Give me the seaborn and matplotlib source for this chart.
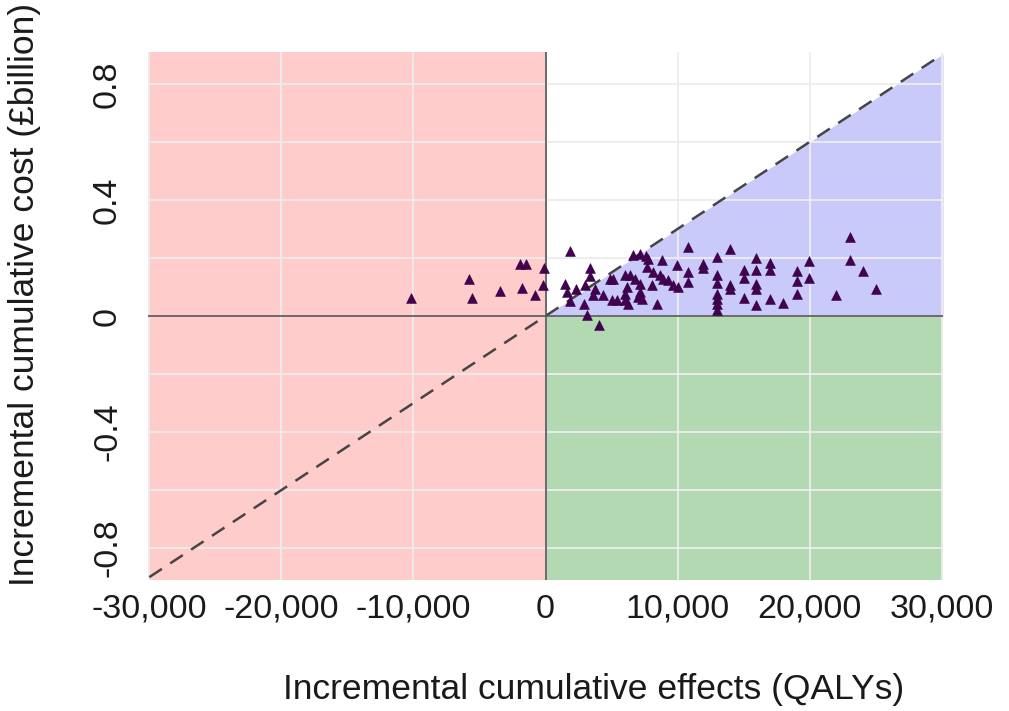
import numpy as np
import pandas as pd
import matplotlib
matplotlib.use("Agg")
import matplotlib.pyplot as plt
import seaborn as sns

# ---- data ----
effects_qaly = [
    -10210, -5780, -5530, -3420, -1800, -1900, -1440, -80, -210, -780,
    1830, 3400, 3400, 1440, 1620, 2330, 2970, 3730, 3600, 4360,
    4870, 5000, 1830, 2910, 3170, 4030, 5380,
    6620, 7150, 7600, 7780, 8800, 9940, 10820, 7660, 8160,
    6010, 6390, 6770, 8670, 8920, 9300, 9680, 10060, 8040, 7150,
    6140, 5120, 7150, 7020, 6010, 6010, 6260, 7280, 8420, 10820, 10820,
    13940, 12980, 15970, 11920, 11920, 12980, 12980, 13940, 13940,
    15000, 15000, 15970, 15970, 15970, 12980, 12980, 12980, 12980,
    15000, 15970, 16980, 16980, 16980, 18000, 19010, 19010, 19010,
    19980, 19980, 23060, 23060, 24010, 25040, 22030,
]
cost_bn = [
    0.062, 0.127, 0.062, 0.086, 0.097, 0.178, 0.178, 0.166, 0.106, 0.071,
    0.224, 0.167, 0.137, 0.109, 0.083, 0.094, 0.108, 0.094, 0.071, 0.071,
    0.127, 0.054, 0.050, 0.040, 0.004, -0.030, 0.054,
    0.210, 0.213, 0.208, 0.195, 0.193, 0.175, 0.239, 0.169, 0.152,
    0.141, 0.141, 0.129, 0.141, 0.129, 0.123, 0.106, 0.100, 0.108, 0.112,
    0.100, 0.129, 0.083, 0.065, 0.077, 0.054, 0.042, 0.060, 0.042, 0.152, 0.117,
    0.231, 0.202, 0.199, 0.178, 0.166, 0.143, 0.115, 0.108, 0.094,
    0.160, 0.131, 0.158, 0.112, 0.092, 0.077, 0.060, 0.040, 0.019,
    0.062, 0.039, 0.181, 0.158, 0.060, 0.046, 0.155, 0.120, 0.077,
    0.189, 0.131, 0.274, 0.193, 0.156, 0.092, 0.071,
]
x_ticks = [-30000, -20000, -10000, 0, 10000, 20000, 30000]
x_tick_labels = ["-30,000", "-20,000", "-10,000", "0", "10,000", "20,000", "30,000"]
y_ticks = [-0.8, -0.4, 0, 0.4, 0.8]
y_minor_ticks = [-0.6, -0.2, 0.2, 0.6]
y_tick_labels = ["-0.8", "-0.4", "0", "0.4", "0.8"]
threshold_gbp_per_qaly = 30000

df = pd.DataFrame({"effects": effects_qaly, "cost": cost_bn})

sns.set_theme(style="white")
plt.rcParams["font.family"] = ["Liberation Sans", "DejaVu Sans"]

fig = plt.figure(figsize=(10.09, 7.11), dpi=100)
ax = fig.add_axes([0.1467, 0.1842, 0.7879, 0.7427])

xlim = (-30100, 30100)
ylim = (-0.91, 0.91)

# quadrant fills
ax.axvspan(xlim[0], 0, color="#FFCCCC", lw=0, zorder=0)
ax.fill_between([0, xlim[1]], ylim[0], 0, color="#B3D9B3", lw=0, zorder=0)
xs = np.array([0, xlim[1]])
ax.fill_between(xs, 0, xs * threshold_gbp_per_qaly / 1e9, color="#CACAFA", lw=0, zorder=0)

# threshold line
xl = np.array([-30000, 30000])
ax.plot(xl, xl * threshold_gbp_per_qaly / 1e9, ls=(0, (6, 4)), color="#454545",
        lw=1.8, zorder=2)

# zero lines
ax.axhline(0, color="#555555", lw=1.2, zorder=2)
ax.axvline(0, color="#555555", lw=1.2, zorder=2)

sns.scatterplot(data=df, x="effects", y="cost", marker="^", s=50,
                color="#440154", edgecolor="#2b0036", linewidth=0.4,
                zorder=3, ax=ax, legend=False)

ax.set_xlim(*xlim)
ax.set_ylim(*ylim)
ax.set_xticks(x_ticks)
ax.set_xticklabels(x_tick_labels, fontsize=24.5)
ax.set_yticks(y_ticks)
ax.set_yticks(y_minor_ticks, minor=True)
ax.set_yticklabels(y_tick_labels, fontsize=24.5, rotation=90, va="center", ha="right")
ax.tick_params(axis="both", which="both", length=0, colors="#1a1a1a")
ax.tick_params(axis="x", pad=10)
ax.tick_params(axis="y", pad=18)
ax.set_axisbelow(True)
ax.grid(which="both", color="#EDEDED", lw=1.3)
for sp in ax.spines.values():
    sp.set_visible(False)

ax.set_xlabel("Incremental cumulative effects (QALYs)", fontsize=25.5, color="#1a1a1a")
ax.set_ylabel("Incremental cumulative cost (£billion)", fontsize=25.5, color="#1a1a1a")
ax.xaxis.label.set_va("center")
ax.xaxis.set_label_coords(0.56, -0.208)
ax.yaxis.set_label_coords(-0.135, 0.54)

fig.savefig("out.png", dpi=100)
